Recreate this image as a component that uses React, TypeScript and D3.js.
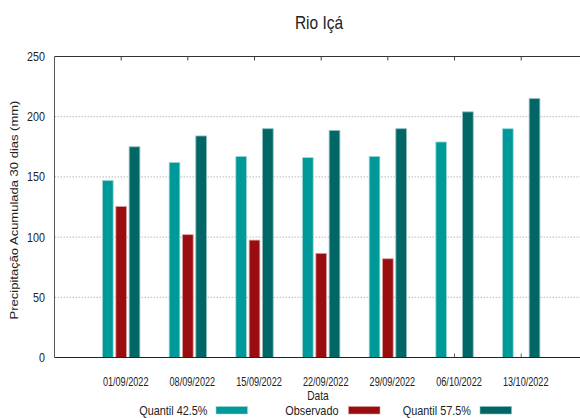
import React from 'react';
import * as d3 from 'd3';

// chart values
const dates = ['01/09/2022', '08/09/2022', '15/09/2022', '22/09/2022', '29/09/2022', '06/10/2022', '13/10/2022'];
const quantil425 = [147, 162, 167, 166, 167, 179, 190];
const observado = [125.5, 102, 97.5, 86.5, 82, null, null];
const quantil575 = [175, 184, 190, 188.5, 190, 204, 215];
const yTicks = [0, 50, 100, 150, 200, 250];

const seriesNames = ['Quantil 42.5%', 'Observado', 'Quantil 57.5%'];
const seriesColors = ['#009999', '#990c0f', '#006666'];
const seriesStroke = ['#9fd6d6', '#d9a0a0', '#8fbcbc'];

const W = 580;
const H = 418;
const left = 54.5;
const top = 56.5;
const bottom = 357.5;
const font = '"Liberation Sans", Arial, sans-serif';

// the reference text looks squeezed sideways, so scale x a bit
const Label = ({ x, y, sx = 0.85, size = 12, anchor = 'middle', rot = false, children }: any) => (
  <text
    transform={`translate(${x},${y}) scale(${sx},1)${rot ? ' rotate(-90)' : ''}`}
    textAnchor={anchor}
    fontSize={size}
    fill="#222"
  >
    {children}
  </text>
);

export default function App() {
  // one slot per date, plus a slot of padding on each side (plot runs off the right edge)
  const x = d3.scalePoint<string>().domain(dates).range([left, left + 8 * 66.67]).padding(1);
  const inner = d3.scaleBand<string>().domain(seriesNames).range([-20, 20]);
  const y = d3.scaleLinear().domain([0, 250]).range([bottom, top]);

  const allSeries = [quantil425, observado, quantil575];
  const barW = inner.bandwidth() * 0.8;

  return (
    <svg width={W} height={H} style={{ position: 'absolute', left: 0, top: 0, background: '#fff' }} fontFamily={font}>
      <Label x={319} y={28.5} size={18} sx={0.86}>Rio Içá</Label>

      {/* grid lines */}
      {yTicks.filter((t) => t > 0 && t < 250).map((t) => (
        <line key={t} x1={left} x2={W} y1={y(t)} y2={y(t)} stroke="#b8b8b8" strokeDasharray="1.5,1.5" />
      ))}

      {/* frame ticks at group centers */}
      {dates.map((d) => (
        <g key={d}>
          <line x1={x(d)} x2={x(d)} y1={top} y2={top + 4} stroke="#444" />
          <line x1={x(d)} x2={x(d)} y1={bottom} y2={bottom - 4} stroke="#666" />
        </g>
      ))}

      {/* bars */}
      {allSeries.map((vals, si) =>
        vals.map((v, i) =>
          v == null ? null : (
            <rect
              key={si + '-' + i}
              x={(x(dates[i]) as number) + (inner(seriesNames[si]) as number) + (inner.bandwidth() - barW) / 2}
              y={y(v)}
              width={barW}
              height={bottom - y(v)}
              fill={seriesColors[si]}
              stroke={seriesStroke[si]}
              strokeWidth={0.8}
            />
          )
        )
      )}

      {/* axes lines */}
      <line x1={left} x2={W} y1={top} y2={top} stroke="#333" />
      <line x1={left} x2={W} y1={bottom} y2={bottom} stroke="#222" strokeWidth={1.2} />
      <line x1={left} x2={left} y1={top} y2={bottom} stroke="#555" />

      {/* y tick labels */}
      {yTicks.map((t) => (
        <Label key={t} x={45} y={y(t) + 4.5} anchor="end" size={12.5} sx={0.86}>{t}</Label>
      ))}

      {/* x tick labels */}
      {dates.map((d) => (
        <Label key={d} x={(x(d) as number) + 4.5} y={385.5} size={12} sx={0.76}>{d}</Label>
      ))}

      <Label x={318} y={400} size={12}>Data</Label>
      <Label x={18} y={210} size={13} sx={0.8} rot>Precipitação Acumulada 30 dias (mm)</Label>

      {/* legend */}
      {seriesNames.map((s, i) => {
        const textEnd = [207.5, 338.5, 471][i];
        const swX = [216, 348.5, 480][i];
        return (
          <g key={s}>
            <Label x={textEnd} y={414.5} anchor="end" size={12.5} sx={0.87}>{s}</Label>
            <rect x={swX} y={406.5} width={31.5} height={7.5} fill={seriesColors[i]} stroke={seriesStroke[i]} strokeWidth={0.6} />
          </g>
        );
      })}
    </svg>
  );
}
